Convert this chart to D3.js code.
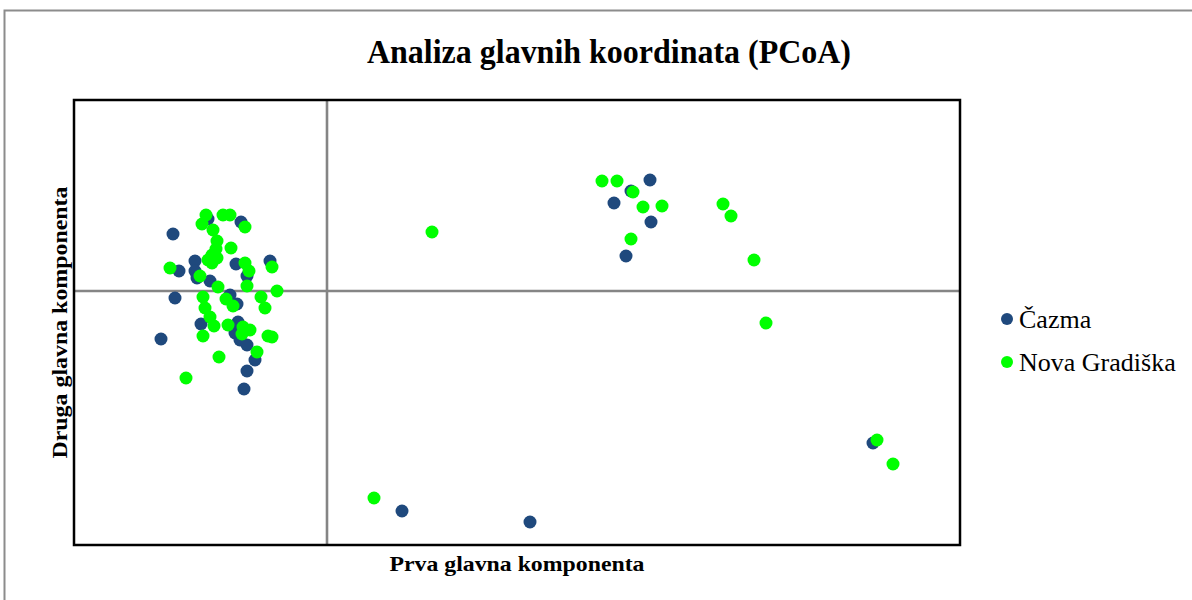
<!DOCTYPE html>
<html>
<head>
<meta charset="utf-8">
<script src="https://cdn.jsdelivr.net/npm/d3@7"></script>
<style>
  html, body { margin: 0; padding: 0; background: #fff; }
  svg { display: block; }
</style>
</head>
<body>
<svg id="chart" width="1192" height="600"></svg>
<script>
// ---- Data (PCoA coordinates, arbitrary units) ----
const seriesNames = ["Čazma", "Nova Gradiška"];
const seriesColors = ["#1F497D", "#00FF00"];

const cazmaX = [-1.54,-1.19,-0.86,-1.32,-1.48,-1.32,-1.30,-1.17,-0.91,-0.57,-0.80,-0.97,-1.52,-0.90,-1.26,-0.89,-1.66,-0.92,-0.87,-0.80,-0.72,-0.80,-0.83,
                3.23,3.04,2.87,3.24,2.99,0.75,2.03,5.46];
const cazmaY = [0.57,0.72,0.69,0.30,0.20,0.20,0.13,0.10,0.27,0.30,0.15,-0.04,-0.07,-0.13,-0.33,-0.31,-0.48,-0.42,-0.49,-0.54,-0.69,-0.80,-0.98,
                1.11,1.00,0.88,0.69,0.35,-2.20,-2.31,-1.52];

const novaX = [-1.21,-1.04,-0.97,-1.25,-0.82,-1.14,-1.10,-0.96,-1.11,-1.15,-1.19,-1.10,-1.15,-0.82,-0.78,-0.55,-1.57,-1.27,-1.09,-0.80,-0.50,
               -1.24,-1.01,-0.66,-1.22,-0.94,-0.62,-1.17,-1.13,-0.99,-0.84,-0.77,-0.85,-1.24,-0.59,-0.55,-0.70,-1.08,-1.41,
               2.75,2.90,3.06,3.16,3.35,3.04,3.96,4.04,4.27,4.39,1.05,0.47,5.50,5.66];
const novaY = [0.76,0.76,0.76,0.67,0.64,0.61,0.50,0.43,0.42,0.36,0.31,0.33,0.28,0.28,0.20,0.24,0.23,0.15,0.04,0.05,0.00,
               -0.06,-0.08,-0.06,-0.17,-0.15,-0.17,-0.26,-0.35,-0.34,-0.36,-0.39,-0.43,-0.45,-0.45,-0.46,-0.61,-0.66,-0.87,
               1.10,1.10,0.99,0.84,0.85,0.52,0.87,0.75,0.31,-0.32,0.59,-2.07,-1.49,-1.73];

const xDomain = [-2.53, 6.33];
const yDomain = [-2.54, 1.91];

// ---- Layout ----
const svg = d3.select("#chart");
const W = 1192, H = 600;
const plot = { left: 74, right: 960, top: 100, bottom: 545 };
const serif = "'Liberation Serif', 'Times New Roman', serif";

const x = d3.scaleLinear().domain(xDomain).range([plot.left, plot.right]);
const y = d3.scaleLinear().domain(yDomain).range([plot.bottom, plot.top]);

// outer frame
svg.append("path")
  .attr("d", `M4.5,${H} L4.5,10.5 L${W},10.5`)
  .attr("fill", "none").attr("stroke", "#8c8c8c").attr("stroke-width", 2);

// title
svg.append("text")
  .attr("x", 609).attr("y", 63)
  .attr("text-anchor", "middle")
  .attr("font-family", serif)
  .attr("font-weight", "bold").attr("font-size", 33)
  .attr("textLength", 484).attr("lengthAdjust", "spacingAndGlyphs")
  .text("Analiza glavnih koordinata (PCoA)");

// zero lines
svg.append("line")
  .attr("x1", x(0)).attr("x2", x(0)).attr("y1", plot.top).attr("y2", plot.bottom)
  .attr("stroke", "#858585").attr("stroke-width", 2.6);
svg.append("line")
  .attr("x1", plot.left).attr("x2", plot.right).attr("y1", y(0)).attr("y2", y(0))
  .attr("stroke", "#858585").attr("stroke-width", 2.6);

// points
const series = [
  { name: seriesNames[0], color: seriesColors[0], pts: d3.zip(cazmaX, cazmaY) },
  { name: seriesNames[1], color: seriesColors[1], pts: d3.zip(novaX, novaY) }
];
series.forEach(s => {
  svg.append("g").selectAll("circle").data(s.pts).join("circle")
    .attr("cx", d => x(d[0])).attr("cy", d => y(d[1]))
    .attr("r", 6.5).attr("fill", s.color);
});

// plot border
svg.append("rect")
  .attr("x", plot.left).attr("y", plot.top)
  .attr("width", plot.right - plot.left).attr("height", plot.bottom - plot.top)
  .attr("fill", "none").attr("stroke", "#000").attr("stroke-width", 2.5);

// axis titles
svg.append("text")
  .attr("x", (plot.left + plot.right) / 2).attr("y", 571)
  .attr("text-anchor", "middle")
  .attr("font-family", serif)
  .attr("font-weight", "bold").attr("font-size", 22)
  .attr("textLength", 255).attr("lengthAdjust", "spacingAndGlyphs")
  .text("Prva glavna komponenta");

svg.append("text")
  .attr("transform", `translate(67,${(plot.top + plot.bottom) / 2}) rotate(-90)`)
  .attr("text-anchor", "middle")
  .attr("font-family", serif)
  .attr("font-weight", "bold").attr("font-size", 22)
  .attr("textLength", 272).attr("lengthAdjust", "spacingAndGlyphs")
  .text("Druga glavna komponenta");

// legend
const legend = svg.append("g");
series.forEach((s, i) => {
  const ly = 319 + i * 43;
  legend.append("circle").attr("cx", 1007).attr("cy", ly).attr("r", 6).attr("fill", s.color);
  legend.append("text")
    .attr("x", 1019).attr("y", ly + 9)
    .attr("font-family", serif)
    .attr("font-size", 26)
    .text(s.name);
});
</script>
</body>
</html>
